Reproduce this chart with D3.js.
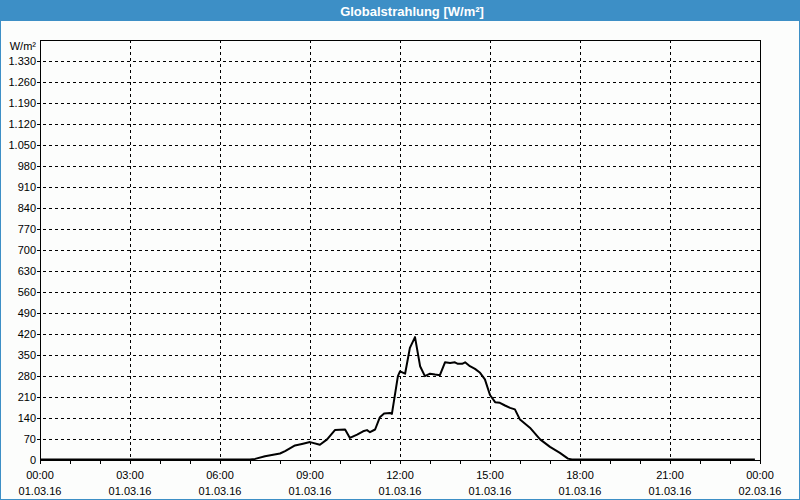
<!DOCTYPE html>
<html>
<head>
<meta charset="utf-8">
<script src="https://cdn.jsdelivr.net/npm/d3@7"></script>
<style>
  body { margin: 0; background: #fcfdfc; }
  text { font-family: "Liberation Sans", Arial, sans-serif; }
</style>
</head>
<body>
<svg id="chart" width="800" height="500"></svg>
<script>
// hours since 01.03.16 00:00 and global radiation in W/m²
const hours = [0, 7.0, 7.17, 7.5, 8.0, 8.17, 8.5, 8.73, 9.0, 9.33, 9.57, 9.83, 10.17, 10.33, 10.57, 10.77, 10.9, 11.0, 11.17,
  11.33, 11.47, 11.67, 11.73, 11.93, 12.0, 12.17, 12.33, 12.5, 12.67, 12.83, 13.0, 13.17, 13.33, 13.5, 13.67, 13.83,
  13.93, 14.07, 14.17, 14.33, 14.5, 14.67, 14.83, 15.0, 15.17, 15.33, 15.5, 15.67, 15.83, 16.0, 16.33, 16.67, 17.0,
  17.33, 17.6, 17.73, 23.83];
const radiation = [0, 0, 2, 11, 20, 28, 47, 52, 58, 49, 67, 98, 100, 72, 83, 94, 98, 91, 100,
  141, 153, 155, 152, 278, 294, 286, 372, 408, 311, 278, 286, 283, 281, 324, 322, 324,
  319, 319, 324, 311, 302, 289, 267, 215, 191, 189, 180, 172, 167, 133, 106, 67, 42,
  22, 3, 0, 0];

const yTicks = d3.range(0, 1400, 70);   // 0 .. 1330
const xTickHours = [0, 3, 6, 9, 12, 15, 18, 21, 24];
const xTickTimes = ['00:00', '03:00', '06:00', '09:00', '12:00', '15:00', '18:00', '21:00', '00:00'];
const xTickDates = ['01.03.16', '01.03.16', '01.03.16', '01.03.16', '01.03.16', '01.03.16', '01.03.16', '01.03.16', '02.03.16'];

const title = 'Globalstrahlung [W/m²]';
const unit = 'W/m²';

const svg = d3.select('#chart');
const W = 800, H = 500;
const plot = { left: 40, right: 760, top: 40, bottom: 460 };

// frame + title bar
svg.append('rect').attr('width', W).attr('height', H).attr('fill', '#3d8fc6');
svg.append('rect').attr('x', 1).attr('y', 21).attr('width', W - 2).attr('height', H - 22).attr('fill', '#fcfdfc');
svg.append('text')
  .text(title)
  .attr('x', 412).attr('y', 11)
  .attr('dy', '0.35em')
  .attr('text-anchor', 'middle')
  .attr('fill', 'white')
  .attr('font-size', 13)
  .attr('font-weight', 'bold');

const x = d3.scaleLinear().domain([0, 24]).range([plot.left, plot.right]);
const y = d3.scaleLinear().domain([0, 1400]).range([plot.bottom, plot.top]);

// horizontal grid
svg.append('g')
  .selectAll('line')
  .data(yTicks.filter(d => d > 0))
  .join('line')
  .attr('x1', plot.left - 3).attr('x2', plot.right)
  .attr('y1', d => y(d) + 0.5).attr('y2', d => y(d) + 0.5)
  .attr('stroke', 'black')
  .attr('stroke-dasharray', '3,3');

// vertical grid
svg.append('g')
  .selectAll('line')
  .data(xTickHours.filter(d => d > 0 && d < 24))
  .join('line')
  .attr('x1', d => x(d) + 0.5).attr('x2', d => x(d) + 0.5)
  .attr('y1', plot.top).attr('y2', plot.bottom)
  .attr('stroke', 'black')
  .attr('stroke-dasharray', '3,3');

// y labels
svg.append('g')
  .selectAll('text')
  .data(yTicks)
  .join('text')
  .text(d => d3.format(',')(d).replace(',', '.'))
  .attr('x', 36)
  .attr('y', d => y(d))
  .attr('dy', '0.35em')
  .attr('text-anchor', 'end')
  .attr('font-size', 11);

svg.append('text')
  .text(unit)
  .attr('x', 36).attr('y', 46)
  .attr('dy', '0.35em')
  .attr('text-anchor', 'end')
  .attr('font-size', 11);

// hourly ticks below the axis
svg.append('g')
  .attr('transform', `translate(0, ${plot.bottom})`)
  .call(d3.axisBottom(x).tickValues(d3.range(0, 25)).tickSize(4).tickFormat(''))
  .call(g => g.select('.domain').remove());

// x labels, two lines
const xl = svg.append('g').selectAll('g').data(xTickHours).join('g')
  .attr('transform', d => `translate(${x(d)},0)`);
xl.append('text')
  .text((d, i) => xTickTimes[i])
  .attr('y', 475).attr('dy', '0.35em')
  .attr('text-anchor', 'middle')
  .attr('font-size', 11);
xl.append('text')
  .text((d, i) => xTickDates[i])
  .attr('y', 491).attr('dy', '0.35em')
  .attr('text-anchor', 'middle')
  .attr('font-size', 11);

// plot border
svg.append('rect')
  .attr('x', plot.left + 0.5).attr('y', plot.top + 0.5)
  .attr('width', plot.right - plot.left).attr('height', plot.bottom - plot.top)
  .attr('fill', 'none')
  .attr('stroke', 'black');

// data line
const line = d3.line()
  .x(d => x(d[0]))
  .y(d => y(d[1]) - 0.5);

svg.append('path')
  .datum(hours.map((h, i) => [h, radiation[i]]))
  .attr('fill', 'none')
  .attr('stroke', 'black')
  .attr('stroke-width', 2)
  .attr('stroke-linejoin', 'round')
  .attr('d', line);
</script>
</body>
</html>
